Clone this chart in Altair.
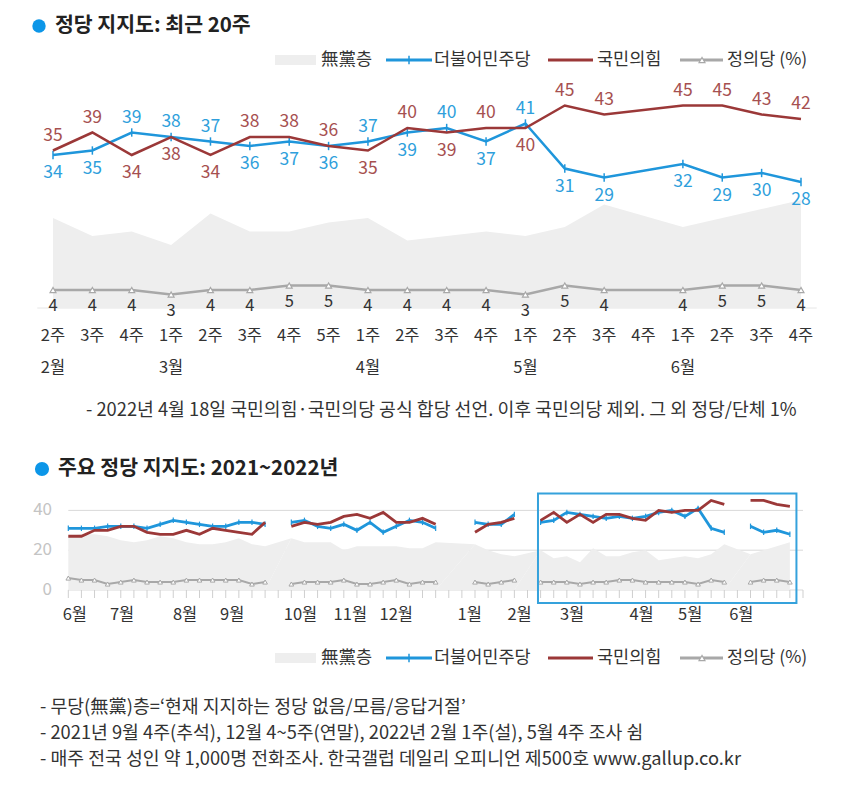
import altair as alt
import pandas as pd

FONT = "Noto Sans CJK KR"
BLUE = "#1f96db"
BLUE_TXT = "#2f9fdc"
RED = "#9b3838"
RED_TXT = "#a65050"
GRAY = "#a8a8a8"
AREA = "#eeeeee"
TXT = "#333333"

# ---------------- data: recent 20 weeks ----------------
week_labels = ["2주", "3주", "4주", "1주", "2주", "3주", "4주", "5주", "1주", "2주",
               "3주", "4주", "1주", "2주", "3주", "4주", "1주", "2주", "3주", "4주"]
month_names_top = ["2월", "3월", "4월", "5월", "6월"]
month_start_idx = [0, 3, 8, 12, 16]
dem_top = [34, 35, 39, 38, 37, 36, 37, 36, 37, 39, 40, 37, 41, 31, 29, None, 32, 29, 30, 28]
ppp_top = [35, 39, 34, 38, 34, 38, 38, 36, 35, 40, 39, 40, 40, 45, 43, None, 45, 45, 43, 42]
jus_top = [4, 4, 4, 3, 4, 4, 5, 5, 4, 4, 4, 4, 3, 5, 4, None, 4, 5, 5, 4]
none_top = [20, 16, 17, 14, 21, 17, 17, 19, 20, 15, 16, 17, 16, 18, 23, None, 18, 20, 22, 24]

# ---------------- data: 2021-06 .. 2022-02 weekly (None = no survey) ----------------
dem_early = [31, 31, 31, 32, 32, 32, 31, 33, 35, 34, 33, 32, 32, 34, 34, 33, None,
             34, 35, 32, 31, 33, 30, 34, 29, 32, 35, 34, 31, None, None,
             34, 33, 33, 38, None]
ppp_early = [27, 27, 30, 30, 32, 32, 29, 28, 28, 30, 28, 31, 30, 29, 28, 34, None,
             32, 34, 33, 34, 37, 38, 36, 39, 34, 34, 36, 33, None, None,
             29, 33, 34, 36, None]
jus_early = [6, 5, 5, 3, 4, 5, 4, 4, 4, 5, 5, 5, 5, 5, 3, 4, None,
             3, 4, 4, 4, 5, 3, 3, 4, 5, 3, 4, 4, None, None,
             4, 3, 4, 5, None]
none_early = [27, 28, 28, 27, 25, 24, 25, 27, 26, 24, 23, 23, 24, 26, 23, 22, None,
              26, 24, 24, 24, 20, 22, 22, 22, 22, 21, 21, 24, None, None,
              23, 20, 18, 17, None]
month_names_all = ["6월", "7월", "8월", "9월", "10월", "11월", "12월",
                   "1월", "2월", "3월", "4월", "5월", "6월"]
month_pos_all = [0.5, 4.1, 8.9, 12.5, 17.7, 21.5, 25.0, 30.6, 34.4, 38.4, 43.7, 47.4, 51.3]
y_ticks_bottom = [0, 20, 40]

legend_names = ["無黨층", "더불어민주당", "국민의힘", "정의당 (%)"]
title_top = "정당 지지도: 최근 20주"
title_bottom = "주요 정당 지지도: 2021~2022년"
note_top = "- 2022년 4월 18일 국민의힘·국민의당 공식 합당 선언. 이후 국민의당 제외. 그 외 정당/단체 1%"
notes_bottom = [
    "- 무당(無黨)층=‘현재 지지하는 정당 없음/모름/응답거절’",
    "- 2021년 9월 4주(추석), 12월 4~5주(연말), 2022년 2월 1주(설), 5월 4주 조사 쉼",
    "- 매주 전국 성인 약 1,000명 전화조사. 한국갤럽 데일리 오피니언 제500호 www.gallup.co.kr",
]

# ---------------- helpers ----------------
ONE = pd.DataFrame({"a": [0]})
TICK_SHAPE = "M0,-1L0,1"


def text_at(t, x, y, size=17, color=TXT, align="left", weight="normal"):
    return alt.Chart(pd.DataFrame({"t": [t]})).mark_text(
        align=align, baseline="middle", font=FONT, fontSize=size,
        color=color, fontWeight=weight).encode(
        text="t:N", x=alt.value(x), y=alt.value(y))


def hline(x1, x2, y, color, width):
    return alt.Chart(ONE).mark_rule(color=color, strokeWidth=width).encode(
        x=alt.value(x1), x2=alt.value(x2), y=alt.value(y))


def marker(x, y, **kw):
    return alt.Chart(ONE).mark_point(opacity=1, **kw).encode(x=alt.value(x), y=alt.value(y))


def legend(y, size=17.5):
    return [
        alt.Chart(ONE).mark_rect(color=AREA).encode(
            x=alt.value(267), x2=alt.value(308), y=alt.value(y - 5), y2=alt.value(y + 5)),
        text_at(legend_names[0], 313, y, size=size),
        hline(378, 424, y, BLUE, 3),
        marker(401, y, shape=TICK_SHAPE, stroke=BLUE, strokeWidth=1.5, size=70, filled=False),
        text_at(legend_names[1], 426, y, size=size),
        hline(540, 585, y, RED, 3),
        text_at(legend_names[2], 589, y, size=size),
        hline(672, 715, y, GRAY, 3),
        marker(694, y, shape="triangle-up", fill="white", stroke=GRAY, strokeWidth=1.2,
               size=35, filled=True),
        text_at(legend_names[3], 719, y, size=size),
    ]


# ---------------- top chart ----------------
n_top = len(week_labels)
top_idx = list(range(n_top))
top_x = alt.Scale(domain=[0, n_top - 1], range=[45, 793], nice=False, zero=False)
top_y = alt.Scale(domain=[0, 50], range=[300, 75], nice=False)
TX = alt.X("i:Q", scale=top_x, axis=None)
TY = alt.Y("v:Q", scale=top_y, axis=None)

dem_up = []
for k, (d, p) in enumerate(zip(dem_top, ppp_top)):
    if d is None:
        dem_up.append("none")
    elif d != p:
        dem_up.append("up" if d > p else "down")
    else:
        dem_up.append("up" if dem_top[k - 1] > ppp_top[k - 1] else "down")
ppp_up = [{"up": "down", "down": "up"}.get(s, "none") for s in dem_up]


def top_frame(vals, sides=None):
    df = pd.DataFrame({"i": top_idx, "v": vals})
    if sides is not None:
        df["side"] = sides
    return df.dropna(subset=["v"])


df_dem_t = top_frame(dem_top, dem_up)
df_ppp_t = top_frame(ppp_top, ppp_up)
df_jus_t = top_frame(jus_top)
df_none_t = top_frame(none_top)


def top_labels(df, side, dy, color):
    return alt.Chart(df[df["side"] == side]).mark_text(
        dy=dy, font=FONT, fontSize=17.5, color=color, baseline="middle").encode(
        x=TX, y=TY, text=alt.Text("v:Q", format="d"))


top_group = alt.layer(
    alt.Chart(pd.DataFrame({"x0": [-0.4], "x1": [n_top - 0.6], "v": [0]})).mark_rule(
        color="#e6e6e6", strokeWidth=1).encode(
        x=alt.X("x0:Q", scale=top_x, axis=None), x2="x1:Q", y=TY),
    alt.Chart(df_none_t).mark_area(color=AREA, opacity=1).encode(x=TX, y=TY),
    alt.Chart(df_jus_t).mark_line(color=GRAY, strokeWidth=2.5).encode(x=TX, y=TY),
    alt.Chart(df_jus_t).mark_point(shape="triangle-up", fill="white", stroke=GRAY,
                                   strokeWidth=1.2, size=35, filled=True, opacity=1).encode(x=TX, y=TY),
    alt.Chart(df_dem_t).mark_line(color=BLUE, strokeWidth=2.5).encode(x=TX, y=TY),
    alt.Chart(df_dem_t).mark_point(shape=TICK_SHAPE, stroke=BLUE, strokeWidth=1.5,
                                   size=70, filled=False, opacity=1).encode(x=TX, y=TY),
    alt.Chart(df_ppp_t).mark_line(color=RED, strokeWidth=2.5).encode(x=TX, y=TY),
    top_labels(df_dem_t, "up", -15, BLUE_TXT),
    top_labels(df_dem_t, "down", 18, BLUE_TXT),
    top_labels(df_ppp_t, "up", -15, RED_TXT),
    top_labels(df_ppp_t, "down", 18, RED_TXT),
    alt.Chart(df_jus_t).mark_text(dy=16, font=FONT, fontSize=16.5, color=TXT,
                                  baseline="middle").encode(
        x=TX, y=TY, text=alt.Text("v:Q", format="d")),
    alt.Chart(pd.DataFrame({"i": top_idx, "t": week_labels})).mark_text(
        font=FONT, fontSize=16.5, color=TXT, baseline="middle").encode(
        x=TX, y=alt.value(328), text="t:N"),
    alt.Chart(pd.DataFrame({"i": month_start_idx, "t": month_names_top})).mark_text(
        font=FONT, fontSize=16.5, color=TXT, baseline="middle").encode(
        x=TX, y=alt.value(360), text="t:N"),
)

# ---------------- bottom chart ----------------
dem_all = dem_early + dem_top
ppp_all = ppp_early + ppp_top
jus_all = jus_early + jus_top
none_all = none_early + none_top
n_all = len(dem_all)

bot_x = alt.Scale(domain=[0, n_all], range=[60.3, 795], nice=False, zero=False)
bot_y = alt.Scale(domain=[0, 50], range=[582, 482.5], nice=False)
BX = alt.X("j:Q", scale=bot_x, axis=None)
BY = alt.Y("w:Q", scale=bot_y, axis=None)


def seg_frame(vals):
    rows, seg = [], 0
    for j, v in enumerate(vals):
        if v is None:
            seg += 1
            continue
        rows.append((j, v, seg))
    return pd.DataFrame(rows, columns=["j", "w", "seg"])


df_dem_b = seg_frame(dem_all)
df_ppp_b = seg_frame(ppp_all)
df_jus_b = seg_frame(jus_all)
df_none_b = seg_frame(none_all)

recent_first = len(dem_early)
box = pd.DataFrame({"x0": [recent_first - 0.2], "x1": [n_all - 0.5],
                    "y0": [-6.5], "y1": [48.5]})

bottom_group = alt.layer(
    alt.Chart(pd.DataFrame({"w": y_ticks_bottom, "x0": 0, "x1": n_all})).mark_rule(
        color="#d9d9d9", strokeWidth=1).encode(
        x=alt.X("x0:Q", scale=bot_x, axis=None), x2="x1:Q", y=BY),
    alt.Chart(pd.DataFrame({"j": list(range(n_all + 1))})).mark_rule(
        color="#cfcfcf", strokeWidth=1).encode(x=BX, y=alt.value(582), y2=alt.value(590)),
    alt.Chart(df_none_b).mark_area(color=AREA, opacity=1).encode(x=BX, y=BY, detail="seg:N"),
    alt.Chart(df_jus_b).mark_line(color=GRAY, strokeWidth=2).encode(x=BX, y=BY, detail="seg:N"),
    alt.Chart(df_jus_b).mark_point(shape="triangle-up", fill="white", stroke=GRAY,
                                   strokeWidth=1, size=22, filled=True, opacity=1).encode(x=BX, y=BY),
    alt.Chart(df_dem_b).mark_line(color=BLUE, strokeWidth=2.8).encode(x=BX, y=BY, detail="seg:N"),
    alt.Chart(df_dem_b).mark_point(shape=TICK_SHAPE, stroke=BLUE, strokeWidth=1.2,
                                   size=30, filled=False, opacity=1).encode(x=BX, y=BY),
    alt.Chart(df_ppp_b).mark_line(color=RED, strokeWidth=2.8).encode(x=BX, y=BY, detail="seg:N"),
    alt.Chart(box).mark_rect(fillOpacity=0, stroke="#35a2dc", strokeWidth=2).encode(
        x=alt.X("x0:Q", scale=bot_x, axis=None), x2="x1:Q",
        y=alt.Y("y0:Q", scale=bot_y, axis=None), y2="y1:Q"),
    alt.Chart(pd.DataFrame({"w": y_ticks_bottom, "t": [str(v) for v in y_ticks_bottom]})).mark_text(
        align="right", baseline="middle", font=FONT, fontSize=17, color="#c4c4c4").encode(
        x=alt.value(44), y=BY, text="t:N"),
    alt.Chart(pd.DataFrame({"j": month_pos_all, "t": month_names_all})).mark_text(
        font=FONT, fontSize=16.5, color=TXT, baseline="middle").encode(
        x=BX, y=alt.value(607), text="t:N"),
)

# ---------------- titles, legends, notes ----------------
decor = [
    marker(31, 18, shape="circle", filled=True, color="#0c96e8", size=180),
    text_at(title_top, 47, 18, size=20.5, color="#222222", weight="bold"),
    *legend(52),
    text_at(note_top, 78, 403, size=18.3),
    marker(34, 461, shape="circle", filled=True, color="#0c96e8", size=200),
    text_at(title_bottom, 50, 461, size=20.5, color="#222222", weight="bold"),
    *legend(650),
    text_at(notes_bottom[0], 32, 700, size=18.3),
    text_at(notes_bottom[1], 32, 726, size=18.3),
    text_at(notes_bottom[2], 32, 752, size=18.3),
]

chart = alt.layer(top_group, bottom_group, *decor).resolve_scale(
    x="independent", y="independent"
).properties(
    width=834, height=773,
    autosize=alt.AutoSizeParams(type="none"),
    padding=0,
    background="white",
).configure_view(stroke=None)

chart.save("out.html", embed_options={"renderer": "svg", "actions": False})
